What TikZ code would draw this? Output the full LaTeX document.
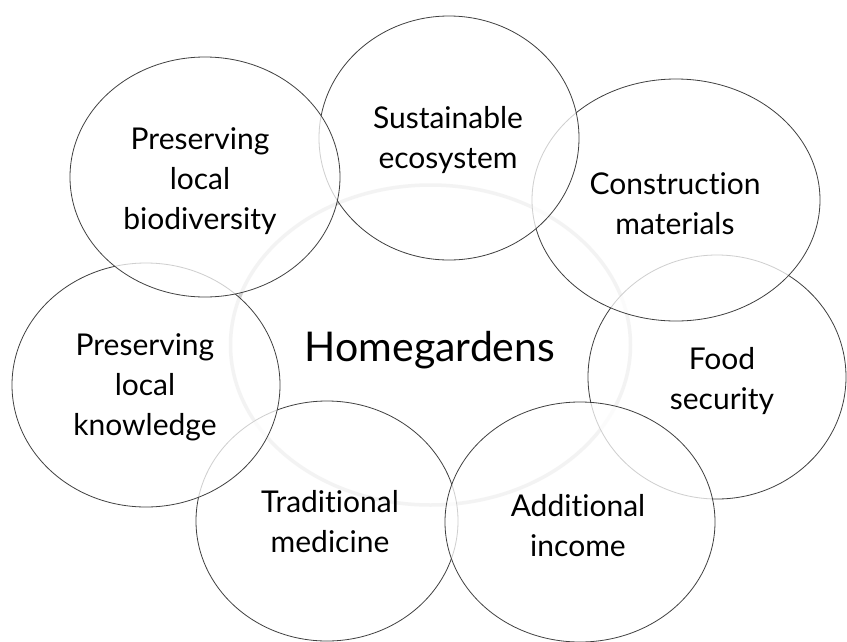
\documentclass[tikz,border=0pt]{standalone}
\usepackage{fontspec}
\setmainfont{Lato}[Ligatures=NoCommon]
\usetikzlibrary{shapes.geometric}
\begin{document}
\begin{tikzpicture}[x=1pt,y=-1pt,
  bub/.style={ellipse, draw=black!75, line width=0.8pt, fill=white, fill opacity=0.75, inner sep=0pt},
  hubstyle/.style={ellipse, draw=black!18, line width=3.5pt, inner sep=0pt, minimum width=400pt, minimum height=320pt},
  lab/.style={align=center, font=\fontsize{30}{40}\selectfont, text=black, inner sep=0pt},
  biglab/.style={font=\fontsize{41}{48}\selectfont, text=black, inner sep=0pt}]
\useasboundingbox (0,0) rectangle (847,641);
\fill[white] (0,0) rectangle (847,641);
\node[hubstyle] (hub) at (430.5,345) {};
% bubbles, back to front
\node[bub, minimum width=258pt, minimum height=244pt] (food) at (717,377) {};
\node[bub, minimum width=262pt, minimum height=240pt] (trad) at (327,521) {};
\node[bub, minimum width=270pt, minimum height=240pt] (income) at (580,522) {};
\node[bub, minimum width=268pt, minimum height=244pt] (know) at (146,385) {};
\node[bub, minimum width=288pt, minimum height=242pt] (constr) at (676,200) {};
\node[bub, minimum width=260pt, minimum height=244pt] (sust) at (449,138) {};
\node[bub, minimum width=270pt, minimum height=240pt] (biod) at (205,177) {};
% labels
\node[biglab] (thub) at (430,350) {Homegardens};
\node[lab] (tbiod) at (200,181) {Preserving\\local\\biodiversity};
\node[lab] (tsust) at (448,140) {Sustainable\\ecosystem};
\node[lab] (tconstr) at (675,204) {Construction\\materials};
\node[lab] (tfood) at (722,381) {Food\\security};
\node[lab] (tknow) at (145,387) {Preserving\\local\\knowledge};
\node[lab] (ttrad) at (330,522) {Traditional\\medicine};
\node[lab] (tincome) at (578,526) {Additional\\income};
\end{tikzpicture}
\end{document}
